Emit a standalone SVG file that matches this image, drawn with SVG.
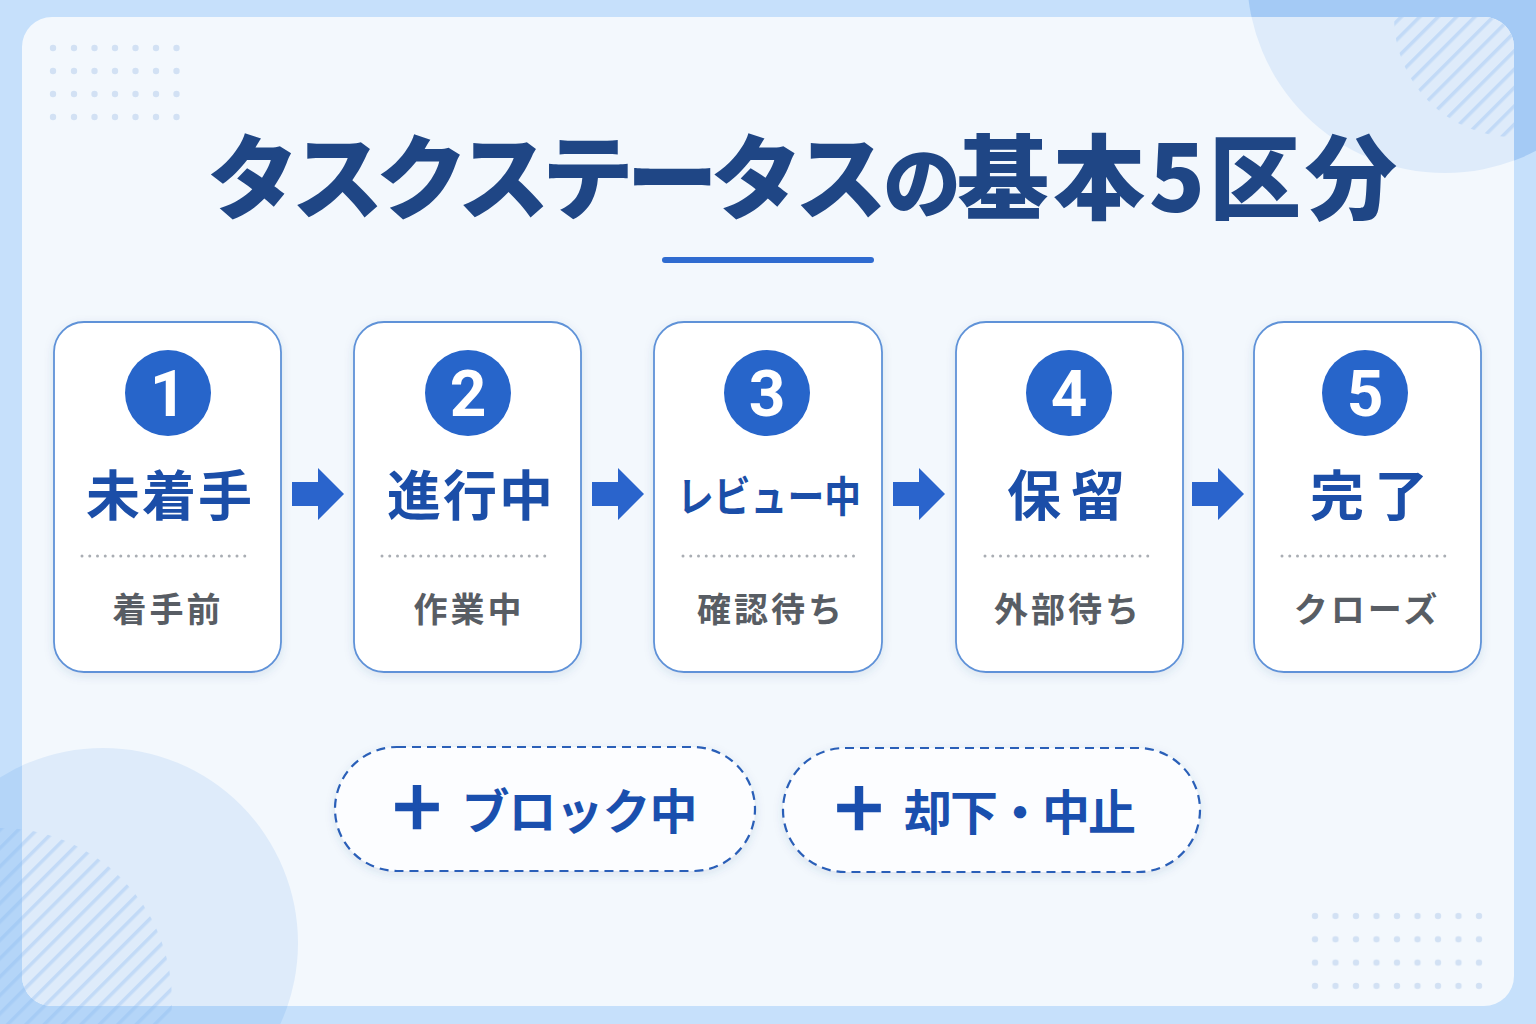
<svg xmlns="http://www.w3.org/2000/svg" width="1536" height="1024" viewBox="0 0 1536 1024">
  <defs>
    <style>
      .jp { font-family: "Noto Sans CJK JP", "Noto Sans", sans-serif; }
      .title { font-size: 92px; font-weight: 900; fill: #1f4685; }
      .card { fill: #ffffff; stroke: #5f92d8; stroke-width: 1.8; }
      .num-bg { fill: #2765ca; }
      .num { font-family: Roboto, "Liberation Sans", sans-serif; font-size: 64px; font-weight: 700; fill: #ffffff; text-anchor: middle; }
      .head { font-size: 54px; font-weight: 700; fill: #1b4ea8; text-anchor: middle; }
      .sub { font-size: 34px; font-weight: 700; fill: #585d64; text-anchor: middle; letter-spacing: 3px; }
      .dots { stroke: #a9adb3; stroke-width: 3; stroke-linecap: round; stroke-dasharray: 0 7.75; fill: none; }
      .arrow { fill: #2a64cc; }
      .pill { fill: #fcfdff; stroke: #2a5fb8; stroke-width: 2.2; stroke-dasharray: 9 6; }
      .pilltxt { font-size: 48px; font-weight: 700; fill: #1a4fae; text-anchor: middle; }
      .dot { fill: #d2e1f4; }
    </style>
    <filter id="shadow" x="-20%" y="-20%" width="140%" height="140%">
      <feDropShadow dx="0" dy="3" stdDeviation="5" flood-color="#2a4f86" flood-opacity="0.13"/>
    </filter>
    <clipPath id="panelClip">
      <rect x="22" y="17" width="1492" height="989" rx="30"/>
    </clipPath>
    <clipPath id="hatchTR">
      <circle cx="1514" cy="17" r="120"/>
    </clipPath>
    <clipPath id="hatchBL">
      <circle cx="0" cy="1000" r="172"/>
    </clipPath>
    <pattern id="stripes" width="13" height="13" patternUnits="userSpaceOnUse" patternTransform="rotate(45)">
      <rect x="0" y="0" width="3.5" height="13" fill="#8dbaf0" fill-opacity="0.35"/>
    </pattern>
    <pattern id="dotgridBR" x="1315" y="916" width="20.5" height="23.3" patternUnits="userSpaceOnUse">
      <circle cx="0" cy="0" r="3.2" fill="#d2e1f4"/>
      <circle cx="20.5" cy="0" r="3.2" fill="#d2e1f4"/>
      <circle cx="0" cy="23.3" r="3.2" fill="#d2e1f4"/>
      <circle cx="20.5" cy="23.3" r="3.2" fill="#d2e1f4"/>
    </pattern>
  </defs>

  <!-- background -->
  <rect x="0" y="0" width="1536" height="1024" fill="#c6e0fb"/>
  <circle cx="1445" cy="-25" r="198" fill="#a4caf5"/>
  <circle cx="103" cy="943" r="195" fill="#b4d5f8"/>

  <!-- panel -->
  <rect x="22" y="17" width="1492" height="989" rx="30" fill="#f3f8fd"/>
  <g clip-path="url(#panelClip)">
    <circle cx="1445" cy="-25" r="198" fill="#deebfa"/>
    <circle cx="103" cy="943" r="195" fill="#deebfa"/>
    <rect x="1380" y="0" width="160" height="160" fill="url(#stripes)" clip-path="url(#hatchTR)"/>
  </g>
  <rect x="0" y="820" width="190" height="204" fill="url(#stripes)" clip-path="url(#hatchBL)"/>

  <!-- dot grids -->
  <g id="dots-top-left">
    <circle cx="53" cy="48" r="3.2" class="dot"/><circle cx="74" cy="48" r="3.2" class="dot"/><circle cx="94.5" cy="48" r="3.2" class="dot"/><circle cx="115" cy="48" r="3.2" class="dot"/><circle cx="135.5" cy="48" r="3.2" class="dot"/><circle cx="156" cy="48" r="3.2" class="dot"/><circle cx="176.5" cy="48" r="3.2" class="dot"/>
    <circle cx="53" cy="71" r="3.2" class="dot"/><circle cx="74" cy="71" r="3.2" class="dot"/><circle cx="94.5" cy="71" r="3.2" class="dot"/><circle cx="115" cy="71" r="3.2" class="dot"/><circle cx="135.5" cy="71" r="3.2" class="dot"/><circle cx="156" cy="71" r="3.2" class="dot"/><circle cx="176.5" cy="71" r="3.2" class="dot"/>
    <circle cx="53" cy="94" r="3.2" class="dot"/><circle cx="74" cy="94" r="3.2" class="dot"/><circle cx="94.5" cy="94" r="3.2" class="dot"/><circle cx="115" cy="94" r="3.2" class="dot"/><circle cx="135.5" cy="94" r="3.2" class="dot"/><circle cx="156" cy="94" r="3.2" class="dot"/><circle cx="176.5" cy="94" r="3.2" class="dot"/>
    <circle cx="53" cy="117" r="3.2" class="dot"/><circle cx="74" cy="117" r="3.2" class="dot"/><circle cx="94.5" cy="117" r="3.2" class="dot"/><circle cx="115" cy="117" r="3.2" class="dot"/><circle cx="135.5" cy="117" r="3.2" class="dot"/><circle cx="156" cy="117" r="3.2" class="dot"/><circle cx="176.5" cy="117" r="3.2" class="dot"/>
  </g>
  <g id="dots-bottom-right">
    <rect x="1305" y="905" width="185" height="92" fill="url(#dotgridBR)"/>
  </g>

  <!-- title -->
  <g id="title">
    <text class="jp title" y="212"><tspan x="207" textLength="680" lengthAdjust="spacing">タスクステータス</tspan><tspan x="883" style="font-size:78px">の</tspan><tspan x="957" textLength="440" lengthAdjust="spacing">基本5区分</tspan></text>
    <line x1="665" y1="260" x2="871" y2="260" stroke="#2f6bd0" stroke-width="6" stroke-linecap="round"/>
  </g>

  <!-- connectors -->
  <g id="connectors">
    <path class="arrow" d="M292 482 H318 V468 L344 494 L318 520 V506 H292 Z"/>
    <path class="arrow" d="M592 482 H618 V468 L644 494 L618 520 V506 H592 Z"/>
    <path class="arrow" d="M893 482 H919 V468 L945 494 L919 520 V506 H893 Z"/>
    <path class="arrow" d="M1192 482 H1218 V468 L1244 494 L1218 520 V506 H1192 Z"/>
  </g>

  <!-- cards -->
  <g id="node-1">
    <rect class="card" x="54" y="322" width="227" height="350" rx="30" filter="url(#shadow)"/>
    <circle class="num-bg" cx="168" cy="393" r="43"/>
    <text class="num" x="168" y="416">1</text>
    <text class="jp head" x="170" y="516" letter-spacing="2">未着手</text>
    <line class="dots" x1="82" y1="556" x2="252" y2="556"/>
    <text class="jp sub" x="168" y="622">着手前</text>
  </g>
  <g id="node-2">
    <rect class="card" x="354" y="322" width="227" height="350" rx="30" filter="url(#shadow)"/>
    <circle class="num-bg" cx="468" cy="393" r="43"/>
    <text class="num" x="468" y="416">2</text>
    <text class="jp head" x="471" y="516" letter-spacing="2">進行中</text>
    <line class="dots" x1="382" y1="556" x2="552" y2="556"/>
    <text class="jp sub" x="469" y="622">作業中</text>
  </g>
  <g id="node-3">
    <rect class="card" x="654" y="322" width="228" height="350" rx="30" filter="url(#shadow)"/>
    <circle class="num-bg" cx="767" cy="393" r="43"/>
    <text class="num" x="767" y="416">3</text>
    <text class="jp head" x="677" y="512" style="font-size:42px;text-anchor:start" textLength="184" lengthAdjust="spacingAndGlyphs">レビュー中</text>
    <line class="dots" x1="683" y1="556" x2="858" y2="556"/>
    <text class="jp sub" x="771" y="622">確認待ち</text>
  </g>
  <g id="node-4">
    <rect class="card" x="956" y="322" width="227" height="350" rx="30" filter="url(#shadow)"/>
    <circle class="num-bg" cx="1069" cy="393" r="43"/>
    <text class="num" x="1069" y="416">4</text>
    <text class="jp head" x="1071" y="516" letter-spacing="10">保留</text>
    <line class="dots" x1="985" y1="556" x2="1155" y2="556"/>
    <text class="jp sub" x="1068" y="622">外部待ち</text>
  </g>
  <g id="node-5">
    <rect class="card" x="1254" y="322" width="227" height="350" rx="30" filter="url(#shadow)"/>
    <circle class="num-bg" cx="1365" cy="393" r="43"/>
    <text class="num" x="1365" y="416">5</text>
    <text class="jp head" x="1374" y="516" letter-spacing="10">完了</text>
    <line class="dots" x1="1282" y1="556" x2="1452" y2="556"/>
    <text class="jp sub" x="1367" y="622">クローズ</text>
  </g>

  <!-- extra statuses -->
  <g id="node-block">
    <rect class="pill" x="335" y="747" width="420" height="124" rx="62" filter="url(#shadow)"/>
    <text class="jp pilltxt" y="829"><tspan x="417" style="font-size:58px" stroke="#1a4fae" stroke-width="2.5">＋</tspan><tspan x="579" letter-spacing="-1">ブロック中</tspan></text>
  </g>
  <g id="node-reject">
    <rect class="pill" x="783" y="748" width="417" height="124" rx="62" filter="url(#shadow)"/>
    <text class="jp pilltxt" y="830"><tspan x="859" style="font-size:58px" stroke="#1a4fae" stroke-width="2.5">＋</tspan><tspan x="1019" letter-spacing="-2">却下・中止</tspan></text>
  </g>
</svg>
